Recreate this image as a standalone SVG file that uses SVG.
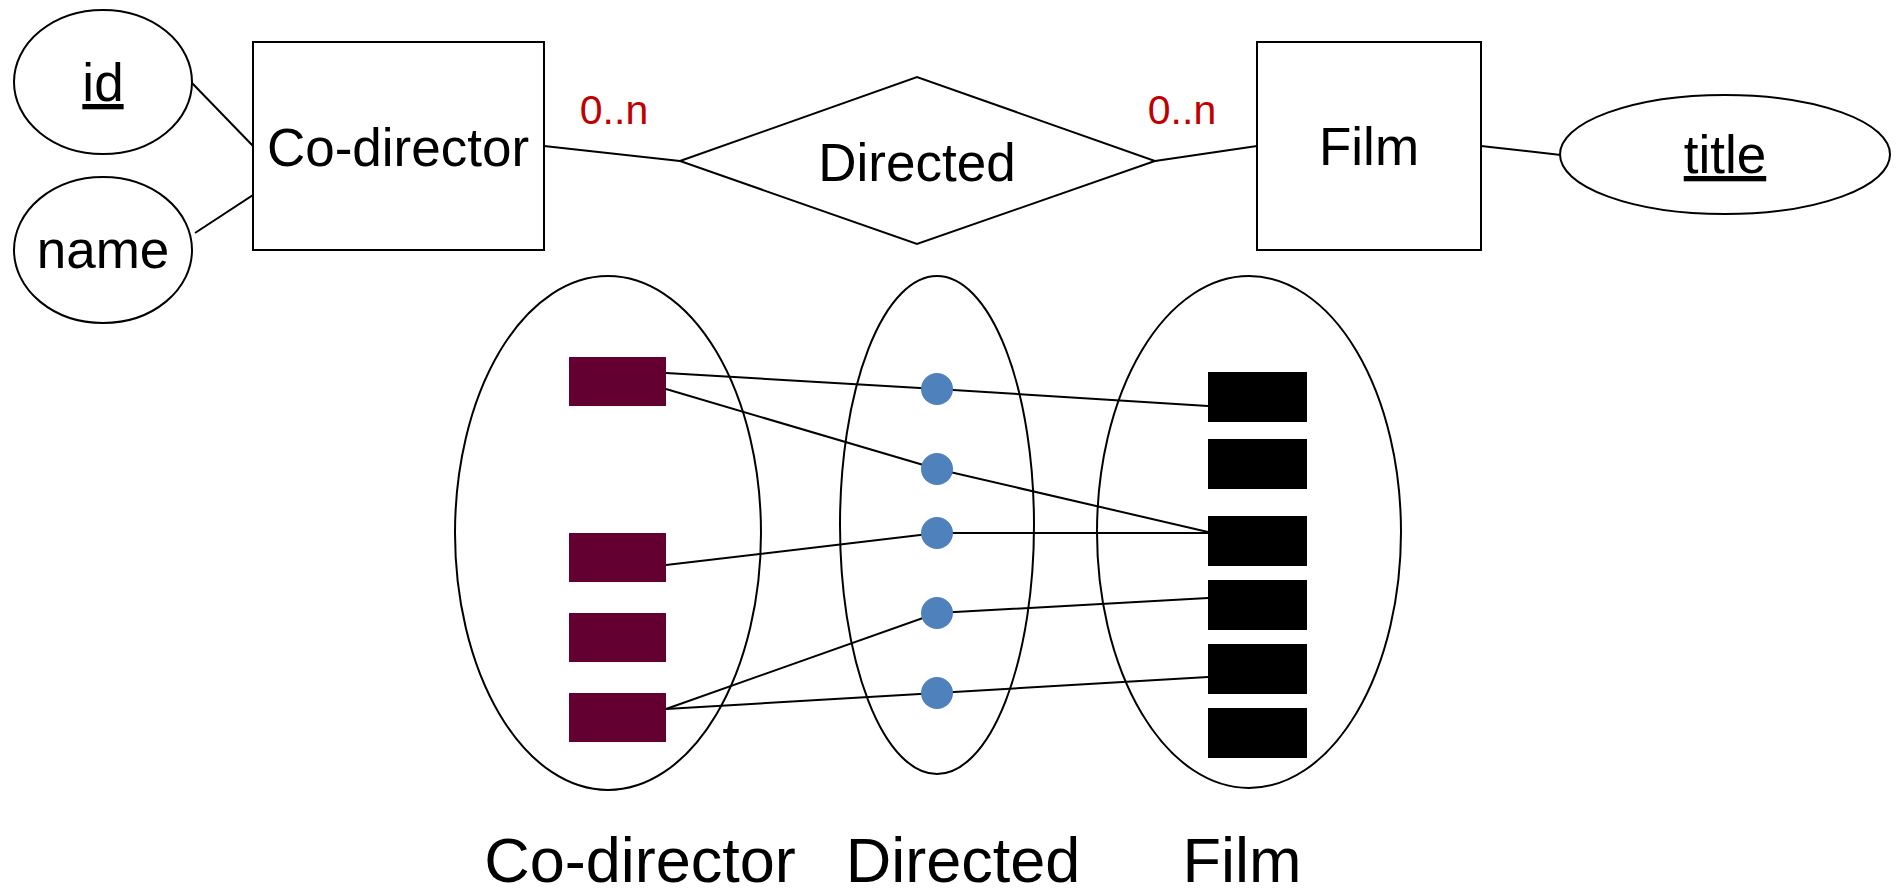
<svg xmlns="http://www.w3.org/2000/svg" width="1901" height="888" viewBox="0 0 1901 888">
<style>
.s{fill:#fff;stroke:#000;stroke-width:2}
.o{fill:none;stroke:#000;stroke-width:2}
.t{font-family:"Liberation Sans",Arial,sans-serif;font-size:53px;fill:#000;text-anchor:middle}
.u{text-decoration:underline}
.c{font-family:"Liberation Sans",Arial,sans-serif;font-size:41px;fill:#C00000;text-anchor:middle}
.b{font-family:"Liberation Sans",Arial,sans-serif;font-size:63px;fill:#000;text-anchor:middle}
.m{fill:#630031}
.k{fill:#000}
.d{fill:#4F81BD}
.l{fill:none;stroke:#000;stroke-width:2}
</style>
<rect width="1901" height="888" fill="#fff"/>
<g id="connectors">
<line class="l" x1="192" y1="83" x2="253" y2="146"/>
<line class="l" x1="195" y1="233" x2="256" y2="193"/>
<line class="l" x1="544" y1="146" x2="680" y2="161"/>
<line class="l" x1="1155" y1="161" x2="1257" y2="146"/>
<line class="l" x1="1481" y1="146" x2="1561" y2="155"/>
</g>
<g id="id-attr"><ellipse class="s" cx="103" cy="82" rx="89" ry="72"/><text class="t u" x="103" y="101">id</text></g>
<g id="name-attr"><ellipse class="s" cx="103" cy="250" rx="89" ry="73"/><text class="t" x="103" y="268">name</text></g>
<g id="codirector"><rect class="s" x="253" y="42" width="291" height="208"/><text class="t" x="398" y="166">Co-director</text></g>
<g id="directed"><polygon class="s" points="680,161 917,77 1155,161 917,244"/><text class="t" x="917" y="181">Directed</text></g>
<g id="card-left"><text class="c" x="614" y="124">0..n</text></g>
<g id="card-right"><text class="c" x="1182" y="124">0..n</text></g>
<g id="film"><rect class="s" x="1257" y="42" width="224" height="208"/><text class="t" x="1369" y="165">Film</text></g>
<g id="title-attr"><ellipse class="s" cx="1725" cy="154.5" rx="165" ry="59.5"/><text class="t u" x="1725" y="173">title</text></g>

<g id="set-codirector"><ellipse class="o" cx="608" cy="533" rx="153" ry="257"/></g>
<g id="set-directed"><ellipse class="o" cx="937" cy="525" rx="97" ry="249"/></g>
<g id="set-film"><ellipse class="o" cx="1249" cy="532" rx="152" ry="256"/></g>

<g id="instance-connectors">
<polyline class="l" points="666,373 937,389 1208,406"/>
<polyline class="l" points="666,389 937,469 1208,532"/>
<polyline class="l" points="666,565 937,533 1208,533"/>
<polyline class="l" points="666,709 937,613 1208,598"/>
<polyline class="l" points="666,709 937,693 1208,677"/>
</g>

<g id="codirector-instances">
<rect class="m" x="569" y="357" width="97" height="49"/>
<rect class="m" x="569" y="533" width="97" height="49"/>
<rect class="m" x="569" y="613" width="97" height="49"/>
<rect class="m" x="569" y="693" width="97" height="49"/>
</g>
<g id="directed-instances">
<circle class="d" cx="937" cy="389" r="16"/>
<circle class="d" cx="937" cy="469" r="16"/>
<circle class="d" cx="937" cy="533" r="16"/>
<circle class="d" cx="937" cy="613" r="16"/>
<circle class="d" cx="937" cy="693" r="16"/>
</g>
<g id="film-instances">
<rect class="k" x="1208" y="372" width="99" height="50"/>
<rect class="k" x="1208" y="439" width="99" height="50"/>
<rect class="k" x="1208" y="516" width="99" height="50"/>
<rect class="k" x="1208" y="580" width="99" height="50"/>
<rect class="k" x="1208" y="644" width="99" height="50"/>
<rect class="k" x="1208" y="708" width="99" height="50"/>
</g>
<g id="labels">
<text class="b" x="640" y="882">Co-director</text>
<text class="b" x="963" y="882">Directed</text>
<text class="b" x="1242" y="882">Film</text>
</g>
</svg>
